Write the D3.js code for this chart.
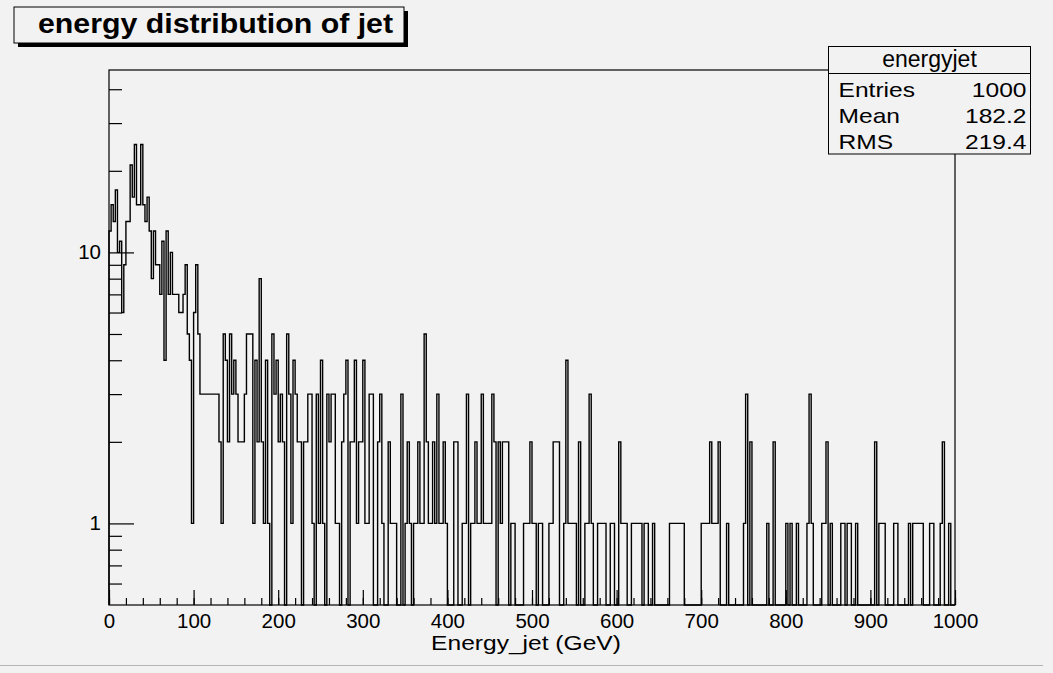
<!DOCTYPE html>
<html>
<head>
<meta charset="utf-8">
<script src="https://cdn.jsdelivr.net/npm/d3@7"></script>
<style>
  body { margin: 0; background: #f2f2f2; }
  svg { display: block; font-family: "Liberation Sans", Arial, Helvetica, sans-serif; }
</style>
</head>
<body>
<div id="chart"></div>
<script>
// histogram binning
const xMin = 0;
const xMax = 1000;
const nBins = 400;

// bin contents (2.5 GeV bins)
const counts0to250 = [
  12, 15, 13, 17, 10, 11, 6, 9, 13, 13,
  21, 16, 25, 15, 15, 25, 15, 13, 16, 12,
  8, 12, 9, 9, 7, 11, 4, 12, 7, 10,
  7, 7, 7, 6, 6, 7, 9, 5, 4, 1,
  6, 9, 5, 3, 3, 3, 3, 3, 3, 3,
  3, 3, 2, 1, 5, 4, 2, 5, 3, 4,
  3, 2, 2, 2, 3, 5, 5, 5, 1, 4,
  2, 8, 2, 1, 4, 1, 0, 5, 3, 4,
  2, 3, 2, 0, 5, 3, 1, 4, 3, 2,
  2, 0, 2, 2, 3, 3, 1, 0, 3, 1
];
const counts250to500 = [
  4, 1, 0, 3, 2, 3, 3, 1, 1, 0,
  2, 3, 4, 0, 2, 2, 4, 1, 2, 2,
  4, 1, 1, 3, 3, 0, 0, 2, 3, 1,
  0, 0, 2, 1, 1, 1, 0, 0, 3, 0,
  1, 2, 1, 0, 1, 1, 2, 1, 1, 5,
  2, 1, 1, 2, 1, 3, 1, 1, 2, 1,
  0, 0, 0, 2, 2, 0, 0, 1, 1, 3,
  0, 1, 1, 2, 1, 1, 3, 1, 1, 1,
  1, 3, 2, 0, 2, 1, 2, 2, 2, 0,
  1, 1, 0, 0, 0, 0, 1, 1, 1, 2
];
const counts500to750 = [
  1, 1, 0, 1, 1, 0, 0, 0, 1, 1,
  2, 2, 2, 0, 0, 1, 4, 1, 1, 1,
  1, 0, 2, 0, 0, 1, 1, 3, 1, 0,
  0, 1, 1, 1, 1, 0, 0, 1, 1, 0,
  0, 2, 1, 1, 1, 0, 0, 1, 1, 1,
  1, 1, 0, 1, 1, 0, 0, 1, 0, 0,
  0, 0, 0, 0, 0, 1, 1, 1, 1, 1,
  1, 1, 0, 0, 0, 0, 0, 0, 0, 0,
  1, 1, 1, 1, 2, 1, 1, 1, 2, 0,
  0, 0, 1, 0, 0, 0, 0, 0, 0, 0
];
const counts750to1000 = [
  1, 3, 0, 2, 0, 0, 0, 0, 0, 0,
  0, 1, 0, 0, 2, 0, 0, 0, 0, 0,
  1, 0, 1, 0, 0, 1, 0, 0, 0, 0,
  1, 3, 1, 0, 0, 0, 0, 1, 1, 2,
  0, 1, 0, 0, 0, 0, 1, 1, 0, 1,
  1, 0, 0, 1, 0, 0, 0, 0, 0, 0,
  0, 0, 2, 0, 1, 1, 1, 0, 0, 0,
  0, 1, 1, 0, 0, 0, 0, 0, 1, 0,
  1, 1, 1, 1, 1, 0, 0, 0, 1, 1,
  0, 0, 0, 1, 2, 0, 0, 1, 0, 0
];

// axis ticks
const xMajorTicks = [0, 100, 200, 300, 400, 500, 600, 700, 800, 900, 1000];
const xMinorTicks = d3.range(0, 1001, 20);
const yMajorTicks = [1, 10];
const yMinorTicks = [0.6, 0.7, 0.8, 0.9, 2, 3, 4, 5, 6, 7, 8, 9, 20, 30, 40];
const yDomain = [0.5, 47.1];

// texts
const histTitle = 'energy distribution of jet';
const histName = 'energyjet';
const xTitle = 'Energy_jet (GeV)';
const statLabels = ['Entries', 'Mean', 'RMS'];
const statValues = ['1000', '182.2', '219.4'];

const counts = [].concat(counts0to250, counts250to500, counts500to750, counts750to1000);
const binWidth = (xMax - xMin) / nBins;

const width = 1053;
const height = 673;
const frame = {left: 109, right: 955, top: 70, bottom: 605};
const stretch = 1.17; // ROOT draws these labels a bit wider than the font

const svg = d3.select('#chart').append('svg')
  .attr('width', width)
  .attr('height', height);

svg.append('rect')
  .attr('width', width).attr('height', height)
  .attr('fill', '#f2f2f2');

// pad border (bottom edge)
svg.append('line')
  .attr('x1', 0).attr('x2', 1043).attr('y1', 665.5).attr('y2', 665.5)
  .attr('stroke', '#b4b4b4');

const x = d3.scaleLinear().domain([xMin, xMax]).range([frame.left, frame.right]);
const y = d3.scaleLog().domain(yDomain).range([frame.bottom, frame.top]);

function widen(sel) {
  sel.each(function() {
    const w = this.getComputedTextLength();
    d3.select(this)
      .attr('textLength', w * stretch)
      .attr('lengthAdjust', 'spacingAndGlyphs');
  });
}

// histogram outline
const pts = [[xMin, yDomain[0]]];
counts.forEach((c, i) => {
  const lo = xMin + i * binWidth;
  const v = Math.max(c, yDomain[0]);
  pts.push([lo, v], [lo + binWidth, v]);
});
pts.push([xMax, yDomain[0]]);

const line = d3.line()
  .x(d => x(d[0]))
  .y(d => y(d[1]));

svg.append('path')
  .datum(pts)
  .attr('d', line)
  .attr('fill', 'none')
  .attr('stroke', '#000')
  .attr('stroke-width', 1.4);

// frame
svg.append('rect')
  .attr('x', frame.left).attr('y', frame.top)
  .attr('width', frame.right - frame.left)
  .attr('height', frame.bottom - frame.top)
  .attr('fill', 'none')
  .attr('stroke', '#000')
  .attr('stroke-width', 1.2);

// x axis: ticks point up into the frame
function cleanAxis(g) {
  g.select('.domain').remove();
  g.selectAll('.tick line').attr('stroke', '#000').attr('stroke-width', 1.2);
}

svg.append('g')
  .attr('transform', 'translate(0,' + frame.bottom + ')')
  .call(d3.axisTop(x).tickValues(xMinorTicks).tickSize(7).tickFormat(''))
  .call(cleanAxis);

svg.append('g')
  .attr('transform', 'translate(0,' + frame.bottom + ')')
  .call(d3.axisTop(x).tickValues(xMajorTicks).tickSize(15).tickFormat(''))
  .call(cleanAxis);

const xLabels = svg.append('g')
  .attr('transform', 'translate(0,' + frame.bottom + ')')
  .call(d3.axisBottom(x).tickValues(xMajorTicks).tickSize(0).tickPadding(8).tickFormat(d3.format('d')))
  .call(g => g.select('.domain').remove());
xLabels.selectAll('text')
  .attr('font-size', 20.5)
  .attr('font-family', '"Liberation Sans", Arial, sans-serif')
  .attr('fill', '#000');

svg.append('text')
  .attr('x', (frame.left + frame.right) / 2 - 6)
  .attr('y', 650)
  .attr('text-anchor', 'middle')
  .attr('font-size', 21)
  .text(xTitle)
  .call(widen);

// y axis: ticks point right into the frame
svg.append('g')
  .attr('transform', 'translate(' + frame.left + ',0)')
  .call(d3.axisRight(y).tickValues(yMinorTicks).tickSize(13).tickFormat(''))
  .call(cleanAxis);

svg.append('g')
  .attr('transform', 'translate(' + frame.left + ',0)')
  .call(d3.axisRight(y).tickValues(yMajorTicks).tickSize(25).tickFormat(''))
  .call(cleanAxis);

const yLabels = svg.append('g')
  .attr('transform', 'translate(' + frame.left + ',0)')
  .call(d3.axisLeft(y).tickValues(yMajorTicks).tickSize(0).tickPadding(8).tickFormat(d3.format('d')))
  .call(g => g.select('.domain').remove());
yLabels.selectAll('text')
  .attr('font-size', 20.5)
  .attr('font-family', '"Liberation Sans", Arial, sans-serif')
  .attr('fill', '#000');

// title box with shadow
const tb = {x: 14, y: 7, w: 390, h: 36};
svg.append('rect')
  .attr('x', tb.x + 4).attr('y', tb.y + 4)
  .attr('width', tb.w).attr('height', tb.h)
  .attr('fill', '#000');
svg.append('rect')
  .attr('x', tb.x).attr('y', tb.y)
  .attr('width', tb.w).attr('height', tb.h)
  .attr('fill', '#f2f2f2')
  .attr('stroke', '#000')
  .attr('stroke-width', 1);
svg.append('text')
  .attr('x', 38).attr('y', 33)
  .attr('font-size', 28)
  .attr('font-weight', 'bold')
  .attr('textLength', 355)
  .attr('lengthAdjust', 'spacingAndGlyphs')
  .text(histTitle);

// stats box, sits over the top right corner of the frame
const sb = {x: 828.5, y: 46.5, w: 202, h: 107.5, head: 27};
svg.append('rect')
  .attr('x', sb.x).attr('y', sb.y)
  .attr('width', sb.w).attr('height', sb.h)
  .attr('fill', '#f2f2f2')
  .attr('stroke', '#000')
  .attr('stroke-width', 1);
svg.append('line')
  .attr('x1', sb.x).attr('x2', sb.x + sb.w)
  .attr('y1', sb.y + sb.head).attr('y2', sb.y + sb.head)
  .attr('stroke', '#000');
svg.append('text')
  .attr('x', sb.x + sb.w / 2).attr('y', 67)
  .attr('text-anchor', 'middle')
  .attr('font-size', 23)
  .text(histName);

const rows = svg.selectAll('.stat')
  .data(statLabels)
  .enter()
  .append('g')
  .attr('class', 'stat');
rows.append('text')
  .attr('x', sb.x + 10)
  .attr('y', (d, i) => 97 + i * 26)
  .attr('font-size', 21)
  .text(d => d)
  .call(widen);
rows.append('text')
  .attr('y', (d, i) => 97 + i * 26)
  .attr('font-size', 21)
  .text((d, i) => statValues[i])
  .call(widen)
  .attr('x', function() { return sb.x + sb.w - 4 - (+d3.select(this).attr('textLength')); });
</script>
</body>
</html>
